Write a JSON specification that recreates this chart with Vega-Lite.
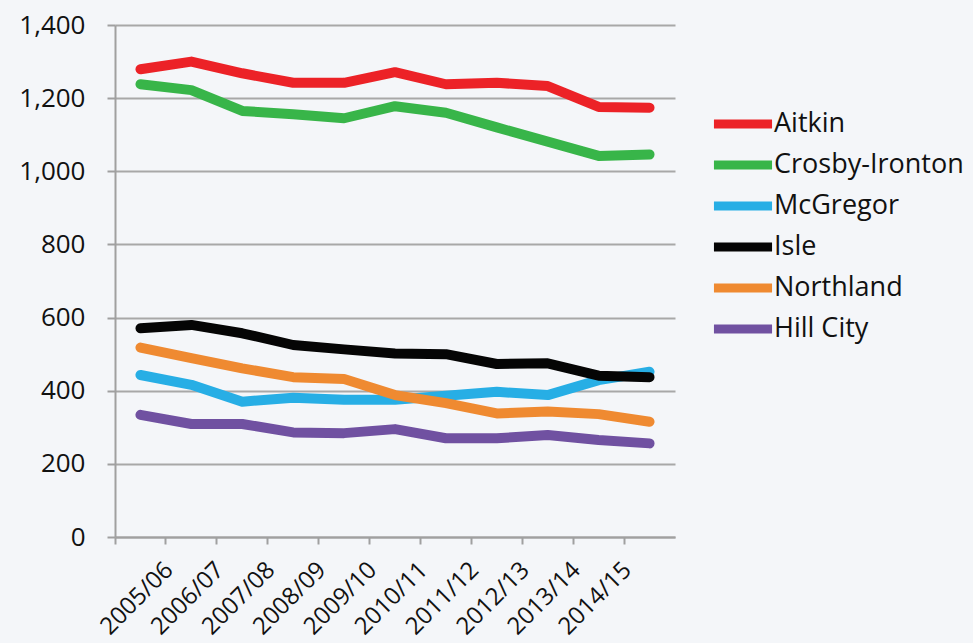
{
  "$schema": "https://vega.github.io/schema/vega-lite/v6.json",
  "autosize": "none",
  "width": 560,
  "height": 512,
  "padding": {"left": 115, "top": 25, "right": 298, "bottom": 106},
  "background": "#f4f6f9",
  "config": {"view": {"stroke": null}, "font": "Open Sans"},
  "data": {"values": [
    {"d": "Aitkin", "year": "2005/06", "v": 1279},
    {"d": "Aitkin", "year": "2006/07", "v": 1300},
    {"d": "Aitkin", "year": "2007/08", "v": 1268},
    {"d": "Aitkin", "year": "2008/09", "v": 1242},
    {"d": "Aitkin", "year": "2009/10", "v": 1242},
    {"d": "Aitkin", "year": "2010/11", "v": 1271},
    {"d": "Aitkin", "year": "2011/12", "v": 1238},
    {"d": "Aitkin", "year": "2012/13", "v": 1242},
    {"d": "Aitkin", "year": "2013/14", "v": 1233},
    {"d": "Aitkin", "year": "2014/15", "v": 1176},
    {"d": "Aitkin", "year": "2015/16", "v": 1174},
    {"d": "Crosby-Ironton", "year": "2005/06", "v": 1238},
    {"d": "Crosby-Ironton", "year": "2006/07", "v": 1222},
    {"d": "Crosby-Ironton", "year": "2007/08", "v": 1165},
    {"d": "Crosby-Ironton", "year": "2008/09", "v": 1156},
    {"d": "Crosby-Ironton", "year": "2009/10", "v": 1145},
    {"d": "Crosby-Ironton", "year": "2010/11", "v": 1178},
    {"d": "Crosby-Ironton", "year": "2011/12", "v": 1160},
    {"d": "Crosby-Ironton", "year": "2012/13", "v": 1120},
    {"d": "Crosby-Ironton", "year": "2013/14", "v": 1081},
    {"d": "Crosby-Ironton", "year": "2014/15", "v": 1042},
    {"d": "Crosby-Ironton", "year": "2015/16", "v": 1046},
    {"d": "McGregor", "year": "2005/06", "v": 443},
    {"d": "McGregor", "year": "2006/07", "v": 416},
    {"d": "McGregor", "year": "2007/08", "v": 370},
    {"d": "McGregor", "year": "2008/09", "v": 381},
    {"d": "McGregor", "year": "2009/10", "v": 375},
    {"d": "McGregor", "year": "2010/11", "v": 375},
    {"d": "McGregor", "year": "2011/12", "v": 386},
    {"d": "McGregor", "year": "2012/13", "v": 397},
    {"d": "McGregor", "year": "2013/14", "v": 388},
    {"d": "McGregor", "year": "2014/15", "v": 429},
    {"d": "McGregor", "year": "2015/16", "v": 452},
    {"d": "Isle", "year": "2005/06", "v": 571},
    {"d": "Isle", "year": "2006/07", "v": 580},
    {"d": "Isle", "year": "2007/08", "v": 557},
    {"d": "Isle", "year": "2008/09", "v": 525},
    {"d": "Isle", "year": "2009/10", "v": 513},
    {"d": "Isle", "year": "2010/11", "v": 502},
    {"d": "Isle", "year": "2011/12", "v": 500},
    {"d": "Isle", "year": "2012/13", "v": 473},
    {"d": "Isle", "year": "2013/14", "v": 475},
    {"d": "Isle", "year": "2014/15", "v": 441},
    {"d": "Isle", "year": "2015/16", "v": 437},
    {"d": "Northland", "year": "2005/06", "v": 518},
    {"d": "Northland", "year": "2006/07", "v": 489},
    {"d": "Northland", "year": "2007/08", "v": 461},
    {"d": "Northland", "year": "2008/09", "v": 437},
    {"d": "Northland", "year": "2009/10", "v": 432},
    {"d": "Northland", "year": "2010/11", "v": 388},
    {"d": "Northland", "year": "2011/12", "v": 366},
    {"d": "Northland", "year": "2012/13", "v": 338},
    {"d": "Northland", "year": "2013/14", "v": 343},
    {"d": "Northland", "year": "2014/15", "v": 336},
    {"d": "Northland", "year": "2015/16", "v": 315},
    {"d": "Hill City", "year": "2005/06", "v": 334},
    {"d": "Hill City", "year": "2006/07", "v": 309},
    {"d": "Hill City", "year": "2007/08", "v": 309},
    {"d": "Hill City", "year": "2008/09", "v": 286},
    {"d": "Hill City", "year": "2009/10", "v": 284},
    {"d": "Hill City", "year": "2010/11", "v": 295},
    {"d": "Hill City", "year": "2011/12", "v": 270},
    {"d": "Hill City", "year": "2012/13", "v": 270},
    {"d": "Hill City", "year": "2013/14", "v": 279},
    {"d": "Hill City", "year": "2014/15", "v": 265},
    {"d": "Hill City", "year": "2015/16", "v": 256}
  ]},
  "mark": {"type": "line", "strokeWidth": 10, "strokeCap": "round", "strokeJoin": "round"},
  "encoding": {
    "x": {
      "field": "year", "type": "ordinal",
      "scale": {"type": "band", "paddingInner": 0, "paddingOuter": 0},
      "bandPosition": 0.5,
      "axis": {
        "title": null, "bandPosition": 0, "grid": false,
        "labelAngle": -45, "labelAlign": "right", "labelBaseline": "middle",
        "labelOffset": 29, "labelPadding": 22,
        "labelFontSize": 24, "labelColor": "#111",
        "labelExpr": "datum.value == '2015/16' ? '' : datum.label",
        "tickColor": "#a0a0a0", "tickSize": 7, "tickWidth": 2,
        "domainColor": "#a0a0a0", "domainWidth": 2
      }
    },
    "y": {
      "field": "v", "type": "quantitative",
      "scale": {"domain": [0, 1400]},
      "axis": {
        "title": null, "values": [0, 200, 400, 600, 800, 1000, 1200, 1400],
        "format": ",d", "labelFontSize": 26, "labelColor": "#111",
        "labelPadding": 22,
        "gridColor": "#a8a8a8", "gridWidth": 2,
        "domainColor": "#a0a0a0", "domainWidth": 2,
        "tickColor": "#a0a0a0", "tickSize": 8, "tickWidth": 2
      }
    },
    "color": {
      "field": "d", "type": "nominal",
      "scale": {
        "domain": ["Aitkin", "Crosby-Ironton", "McGregor", "Isle", "Northland", "Hill City"],
        "range": ["#ec2227", "#38b549", "#27aee5", "#050505", "#ef8a31", "#7051a1"]
      },
      "legend": {
        "title": null, "orient": "none", "legendX": 605, "legendY": 76,
        "symbolType": "M-1.57,0H1.57", "symbolStrokeWidth": 9, "symbolSize": 1369,
        "labelFontSize": 27, "labelColor": "#111", "labelOffset": 8,
        "rowPadding": 0, "labelLimit": 300
      }
    }
  }
}
